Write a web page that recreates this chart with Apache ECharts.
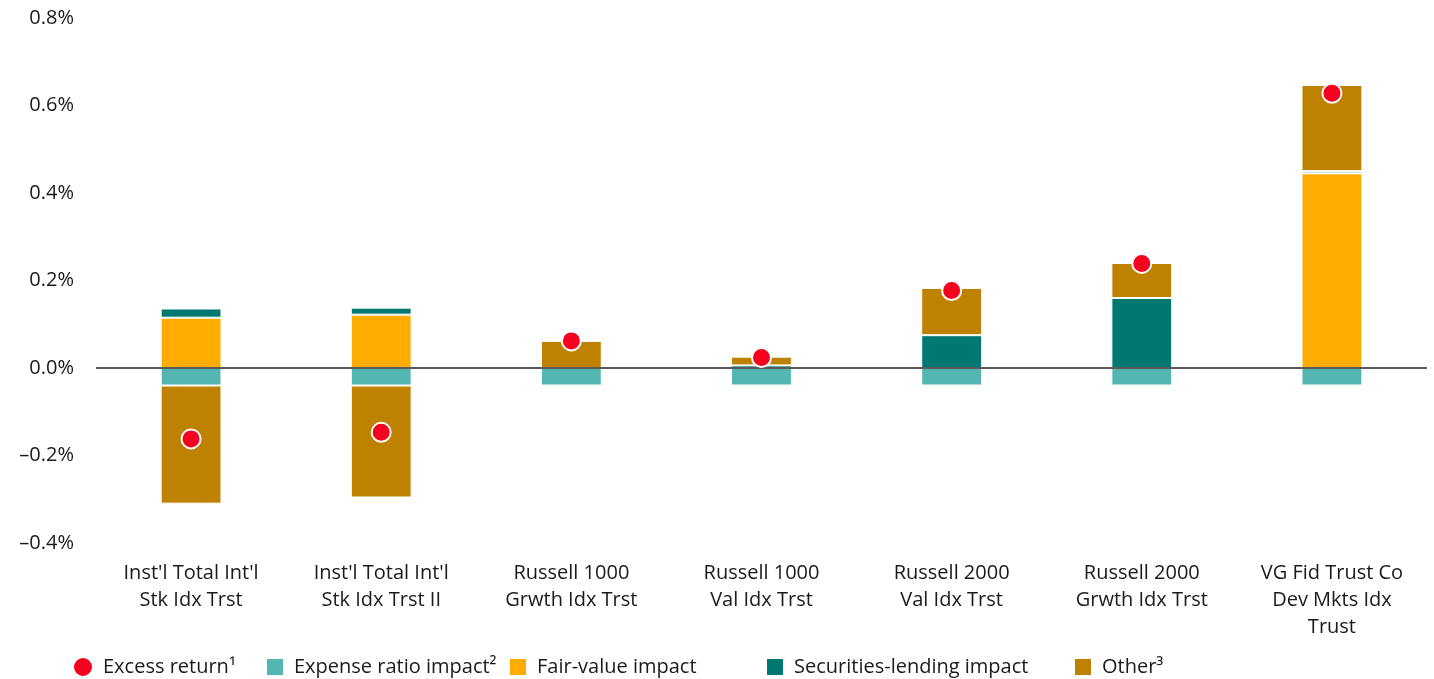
<!DOCTYPE html>
<html>
<head>
<meta charset="utf-8">
<script src="https://cdn.jsdelivr.net/npm/echarts@6/dist/echarts.min.js"></script>
<style>
  html, body { margin: 0; padding: 0; background: #fff; }
  #main { width: 1434px; height: 679px; }
</style>
</head>
<body>
<div id="main"></div>
<script>
    var myChart = echarts.init(document.getElementById('main'));

    // 基金名稱
    var funds = [
        "Inst'l Total Int'l\nStk Idx Trst",
        "Inst'l Total Int'l\nStk Idx Trst II",
        'Russell 1000\nGrwth Idx Trst',
        'Russell 1000\nVal Idx Trst',
        'Russell 2000\nVal Idx Trst',
        'Russell 2000\nGrwth Idx Trst',
        'VG Fid Trust Co\nDev Mkts Idx\nTrust'
    ];

    // 圖例
    var legendNames = ['Excess return\u00b9', 'Expense ratio impact\u00b2', 'Fair-value impact',
        'Securities-lending impact', 'Other\u00b3'];
    var legendLeft = [72, 265, 508, 765, 1073];

    // 各項數據（%）
    var expenseRatio = [-0.04, -0.04, -0.04, -0.04, -0.04, -0.04, -0.04];
    var fairValue = [0.115, 0.122, 0, 0, 0, 0, 0.445];
    var secLending = [0.021, 0.016, 0, 0.006, 0.075, 0.16, 0.005];
    var other = [-0.27, -0.256, 0.062, 0.02, 0.108, 0.08, 0.197];
    var excessReturn = [-0.162, -0.147, 0.062, 0.024, 0.177, 0.239, 0.628];

    var font = '"Open Sans", Lato, sans-serif';
    var textColor = '#1a1a1a';

    function barSeries(name, data, color) {
        return {
            name: name,
            type: 'bar',
            stack: 'total',
            barWidth: '32%',
            data: data,
            itemStyle: {
                color: color,
                borderColor: '#fff',
                borderWidth: 1
            }
        };
    }

    // 每個圖例項目單獨放置，對齊原圖位置
    var legends = legendNames.map(function (name, i) {
        var size = i === 0 ? 20 : 18;
        return {
            left: legendLeft[i],
            top: 666 - size / 2,
            padding: 0,
            itemWidth: size,
            itemHeight: size,
            selectedMode: false,
            textStyle: {
                fontSize: 20,
                color: textColor,
                fontFamily: font,
                padding: [0, 0, 0, 5]
            },
            data: [{ name: name, icon: i === 0 ? 'circle' : 'rect' }]
        };
    });

    var option = {
        animation: false,
        textStyle: { fontFamily: font },
        grid: {
            left: 96,
            right: 7,
            top: 18,
            bottom: 136
        },
        legend: legends,
        xAxis: {
            type: 'category',
            data: funds,
            axisLine: { show: false },
            axisTick: { show: false },
            axisLabel: {
                fontSize: 20,
                lineHeight: 27,
                color: textColor,
                margin: 17,
                interval: 0
            }
        },
        yAxis: {
            type: 'value',
            min: -0.4,
            max: 0.8,
            interval: 0.2,
            splitLine: { show: false },
            axisLine: { show: false },
            axisTick: { show: false },
            axisLabel: {
                fontSize: 20,
                color: textColor,
                margin: 22,
                formatter: function (v) {
                    var s = Math.abs(v).toFixed(1) + '%';
                    return v < -1e-9 ? '\u2013' + s : s;
                }
            }
        },
        series: [
            Object.assign(barSeries(legendNames[1], expenseRatio, '#54b6b0'), {
                // 0% 基準線
                markLine: {
                    silent: true,
                    symbol: 'none',
                    label: { show: false },
                    lineStyle: { color: '#222', width: 1.5, type: 'solid' },
                    data: [{ yAxis: 0 }]
                }
            }),
            barSeries(legendNames[2], fairValue, '#ffab00'),
            barSeries(legendNames[3], secLending, '#007872'),
            barSeries(legendNames[4], other, '#be8200'),
            {
                name: legendNames[0],
                type: 'scatter',
                data: excessReturn,
                symbolSize: 19,
                z: 5,
                itemStyle: {
                    color: '#f5001e',
                    borderColor: '#fff',
                    borderWidth: 2,
                    opacity: 1
                }
            }
        ]
    };

    myChart.setOption(option);

    window.addEventListener('resize', function () {
        myChart.resize();
    });
</script>
</body>
</html>
